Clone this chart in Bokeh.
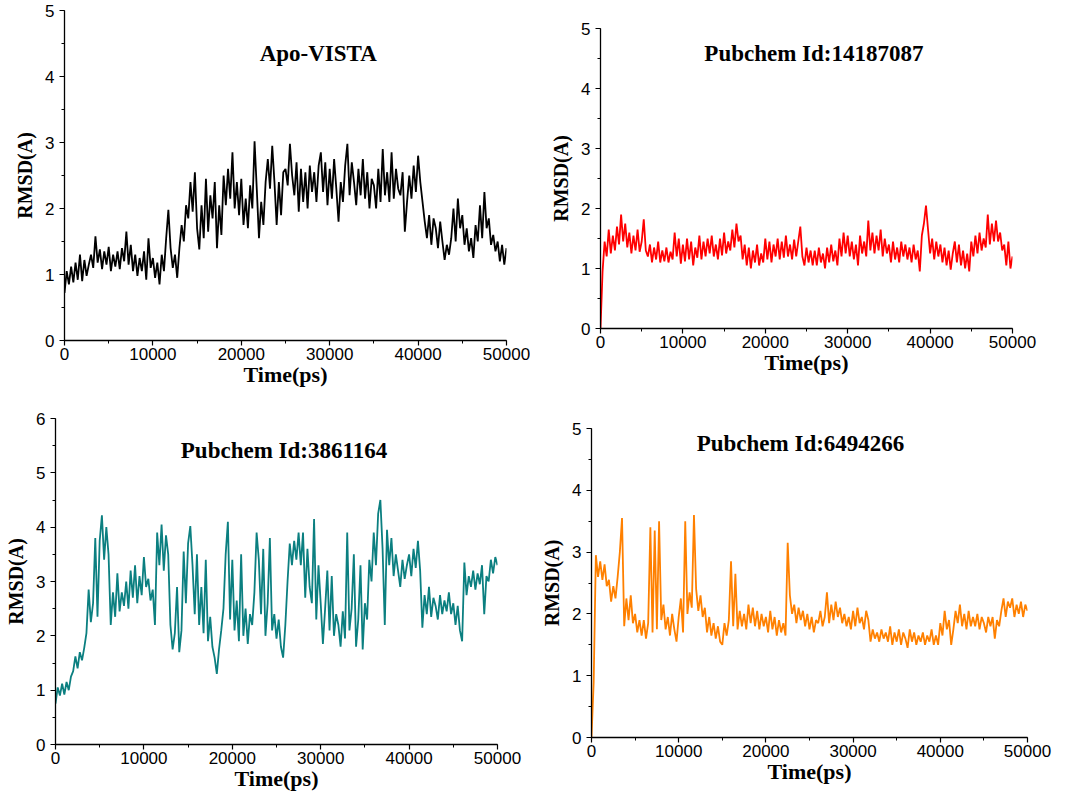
from bokeh.plotting import figure
from bokeh.layouts import row, column
from bokeh.models import Range1d, SingleIntervalTicker, ColumnDataSource
from bokeh.embed import file_html
from bokeh.resources import INLINE
from bokeh.core.properties import value

# ---------------- data (RMSD in Angstrom, sampled every 250 ps) ----------------
time_ps = list(range(0, 50001, 250))

apo_vista = [
    0.72, 1.05, 0.85, 1.12, 0.88, 1.18, 0.92, 1.30, 0.90, 1.22, 0.98, 1.15,
    1.30, 1.10, 1.58, 1.18, 1.38, 1.08, 1.35, 1.15, 1.42, 1.05, 1.30, 1.12,
    1.35, 1.08, 1.40, 1.20, 1.65, 1.15, 1.45, 1.05, 1.30, 0.98, 1.25, 1.05,
    1.35, 0.92, 1.55, 1.10, 1.25, 0.95, 1.18, 0.85, 1.30, 1.05, 1.55, 1.98,
    1.40, 1.10, 1.30, 0.95, 1.40, 1.75, 1.50, 2.05, 1.85, 2.40, 1.95, 2.55,
    1.70, 1.38, 2.05, 1.55, 2.45, 1.65, 2.20, 1.85, 2.40, 1.40, 2.05, 1.60,
    2.50, 2.05, 2.60, 2.15, 2.85, 2.00, 2.40, 1.90, 2.45, 1.75, 2.15, 1.70,
    2.35, 2.00, 3.02, 2.30, 1.55, 2.10, 1.75, 2.40, 2.75, 2.30, 2.95, 2.40,
    1.75, 2.40, 1.90, 2.55, 2.60, 2.35, 2.98, 2.50, 2.20, 2.70, 1.95, 2.60,
    2.10, 2.55, 2.00, 2.65, 2.25, 2.55, 2.10, 2.65, 2.85, 2.25, 2.70, 2.05,
    2.60, 2.15, 2.75, 2.30, 1.80, 2.40, 2.10, 2.65, 2.98, 2.20, 2.70, 2.40,
    2.05, 2.60, 2.20, 2.75, 2.15, 2.55, 2.00, 2.45, 2.35, 2.00, 2.60, 2.10,
    2.90, 2.20, 2.55, 2.10, 2.85, 2.15, 2.60, 2.30, 2.20, 2.55, 1.65, 2.10,
    2.50, 2.15, 2.65, 2.25, 2.80, 2.40, 2.10, 1.80, 1.55, 1.90, 1.45, 1.85,
    1.70, 1.40, 1.80, 1.50, 1.22, 1.45, 1.30, 1.55, 2.00, 1.50, 2.15, 1.70,
    1.90, 1.45, 1.70, 1.35, 1.55, 1.25, 1.75, 1.50, 2.05, 1.55, 2.25, 1.70,
    1.85, 1.45, 1.60, 1.35, 1.50, 1.20, 1.45, 1.15, 1.40,
]

cid_14187087 = [
    0.00, 0.95, 1.45, 1.20, 1.65, 1.25, 1.55, 1.30, 1.70, 1.40, 1.90, 1.45,
    1.75, 1.35, 1.60, 1.25, 1.55, 1.30, 1.65, 1.28, 1.45, 1.82, 1.30, 1.20,
    1.40, 1.10, 1.35, 1.15, 1.45, 1.10, 1.30, 1.12, 1.35, 1.10, 1.28, 1.15,
    1.60, 1.20, 1.50, 1.08, 1.40, 1.12, 1.50, 1.15, 1.45, 1.05, 1.35, 1.18,
    1.55, 1.15, 1.45, 1.20, 1.50, 1.25, 1.55, 1.20, 1.40, 1.15, 1.50, 1.22,
    1.60, 1.25, 1.45, 1.30, 1.65, 1.35, 1.75, 1.45, 1.55, 1.15, 1.40, 1.05,
    1.35, 1.00, 1.30, 1.10, 1.40, 1.05, 1.25, 1.10, 1.50, 1.15, 1.45, 1.10,
    1.40, 1.20, 1.50, 1.15, 1.45, 1.18, 1.55, 1.20, 1.40, 1.15, 1.48, 1.20,
    1.45, 1.70, 1.20, 1.05, 1.35, 1.10, 1.30, 1.05, 1.30, 1.05, 1.35, 1.10,
    1.25, 1.00, 1.35, 1.10, 1.40, 1.12, 1.30, 1.05, 1.50, 1.20, 1.60, 1.25,
    1.55, 1.20, 1.45, 1.15, 1.40, 1.05, 1.55, 1.25, 1.45, 1.20, 1.80, 1.30,
    1.60, 1.25, 1.55, 1.30, 1.65, 1.20, 1.50, 1.25, 1.40, 1.10, 1.45, 1.15,
    1.35, 1.10, 1.45, 1.20, 1.40, 1.15, 1.35, 1.10, 1.40, 1.15, 1.30, 0.95,
    1.55, 1.75, 2.05, 1.65, 1.25, 1.50, 1.15, 1.45, 1.20, 1.40, 1.10, 1.35,
    1.05, 1.30, 0.98, 1.25, 1.45, 1.10, 1.40, 1.05, 1.30, 1.00, 1.25, 0.95,
    1.45, 1.20, 1.55, 1.25, 1.60, 1.30, 1.50, 1.35, 1.90, 1.40, 1.75, 1.45,
    1.80, 1.45, 1.60, 1.30, 1.40, 1.05, 1.45, 1.00, 1.20,
]

cid_3861164 = [
    0.75, 1.05, 0.90, 1.12, 0.92, 1.15, 1.00, 1.25, 1.35, 1.62, 1.40, 1.70,
    1.55, 1.78, 2.05, 2.85, 2.25, 2.60, 3.80, 2.35, 3.75, 4.22, 3.40, 4.00,
    3.50, 2.20, 2.80, 2.35, 3.15, 2.45, 2.80, 2.55, 3.00, 2.50, 3.20, 2.70,
    3.30, 2.60, 3.10, 2.75, 3.45, 2.90, 3.05, 2.65, 2.85, 2.20, 3.90, 3.30,
    4.05, 3.20, 3.85, 3.50, 2.20, 1.75, 2.05, 2.90, 1.70, 2.10, 3.55, 2.60,
    3.70, 4.02, 3.30, 2.40, 3.50, 2.20, 2.90, 2.05, 3.40, 1.90, 2.35, 1.80,
    1.60, 1.30, 1.75, 2.10, 2.50, 3.50, 4.10, 2.30, 3.40, 2.10, 2.65, 1.90,
    3.50, 2.00, 2.50, 1.85, 2.40, 2.20, 2.80, 3.90, 3.40, 2.40, 3.60, 2.00,
    2.60, 3.80, 2.10, 2.40, 1.95, 2.30, 1.80, 1.60, 2.20, 3.00, 3.70, 3.30,
    3.75, 3.40, 3.90, 3.30, 3.90, 2.70, 3.60, 2.90, 2.60, 4.15, 2.30, 3.30,
    2.60, 1.85, 2.50, 3.20, 2.10, 3.10, 2.00, 2.40, 2.20, 1.80, 2.45, 1.95,
    3.90, 2.10, 2.50, 3.50, 1.80, 2.30, 3.30, 1.75, 2.60, 2.30, 3.40, 3.00,
    3.90, 3.30, 4.25, 4.50, 3.60, 2.20, 3.95, 3.30, 3.80, 3.10, 3.50, 3.20,
    2.90, 3.40, 3.05, 3.30, 3.50, 3.10, 3.60, 3.25, 3.75, 3.20, 2.15, 2.75,
    2.40, 2.90, 2.35, 2.70, 2.55, 2.30, 2.75, 2.40, 2.65, 2.45, 2.80, 2.40,
    2.60, 2.20, 2.55, 2.10, 1.90, 3.35, 2.75, 3.10, 2.90, 3.20, 2.85, 3.15,
    2.95, 3.30, 2.40, 3.10, 3.00, 3.40, 3.15, 3.45, 3.30,
]

cid_6494266 = [
    0.00, 0.90, 2.95, 2.60, 2.85, 2.55, 2.80, 2.45, 2.55, 2.20, 2.45, 2.25,
    2.60, 3.00, 3.55, 1.80, 2.25, 1.90, 2.30, 1.85, 2.00, 1.70, 1.90, 1.65,
    1.90, 1.60, 1.85, 3.40, 1.70, 3.35, 1.75, 3.50, 1.90, 2.15, 1.75, 1.95,
    1.65, 2.00, 1.75, 1.55, 1.95, 2.25, 1.70, 3.50, 2.00, 2.35, 2.10, 3.60,
    2.40, 2.05, 2.30, 1.95, 2.10, 1.70, 1.95, 1.65, 1.85, 1.60, 1.80, 1.55,
    1.50, 1.85, 1.65, 1.90, 2.85, 1.80, 2.65, 1.75, 2.05, 1.80, 2.00, 1.75,
    2.15, 1.85, 2.10, 1.80, 2.05, 1.75, 2.00, 1.80, 1.95, 1.70, 2.05, 1.75,
    1.95, 1.65, 1.90, 1.70, 1.85, 1.65, 3.15, 2.30, 2.00, 2.15, 1.85, 2.10,
    1.90, 2.05, 1.80, 2.00, 1.75, 1.95, 1.70, 1.90, 1.85, 2.05, 1.80, 1.95,
    2.35, 1.85, 2.15, 1.90, 2.20, 1.95, 2.10, 1.85, 2.00, 1.80, 1.95, 1.75,
    2.05, 1.80, 2.10, 1.85, 1.95, 1.75, 2.05, 1.90, 1.55, 1.75, 1.60, 1.70,
    1.55, 1.75, 1.60, 1.70, 1.55, 1.80, 1.50, 1.70, 1.55, 1.75, 1.50, 1.70,
    1.60, 1.45, 1.75, 1.55, 1.70, 1.50, 1.65, 1.55, 1.70, 1.50, 1.65, 1.55,
    1.75, 1.50, 1.65, 1.50, 1.85, 1.65, 2.05, 1.75, 1.90, 1.50, 1.75, 2.05,
    1.85, 2.15, 1.80, 2.00, 1.75, 2.05, 1.80, 1.95, 1.80, 2.00, 1.75, 1.95,
    1.85, 1.70, 1.95, 1.80, 1.95, 1.60, 1.90, 1.80, 2.05, 2.25, 1.95, 2.20,
    2.10, 2.25, 1.95, 2.15, 2.00, 2.20, 1.95, 2.15, 2.05,
]

titles = ["Apo-VISTA", "Pubchem Id:14187087", "Pubchem Id:3861164", "Pubchem Id:6494266"]
colors = ["#000000", "#ff0000", "#0b7f80", "#ff8000"]
y_max = [5, 5, 6, 5]
title_pos = [(28700, 4.35), (25900, 4.58), (25850, 5.41), (23970, 4.76)]
x_label = "Time(ps)"
y_label = "RMSD(A)"

SERIF = "Liberation Serif"
SANS = "Liberation Sans"


def panel(idx, yvals, width, height, borders):
    bl, br, bt, bb = borders
    p = figure(width=width, height=height, output_backend="svg", toolbar_location=None,
               x_range=Range1d(0, 50000), y_range=Range1d(0, y_max[idx]),
               min_border_left=bl, min_border_right=br, min_border_top=bt, min_border_bottom=bb,
               frame_align=False)
    p.outline_line_color = None
    p.xgrid.visible = False
    p.ygrid.visible = False
    p.background_fill_color = "white"
    p.border_fill_color = "white"
    src = ColumnDataSource(dict(t=time_ps, r=yvals))
    p.line("t", "r", source=src, line_color=colors[idx], line_width=1.8, line_join="bevel")
    tx, ty = title_pos[idx]
    p.text(x=[tx], y=[ty], text=[titles[idx]], text_font=value(SERIF), text_font_style="bold",
           text_font_size="23px", text_align="center", text_baseline="middle", text_color="black")
    p.xaxis.ticker = SingleIntervalTicker(interval=10000, num_minor_ticks=2)
    p.yaxis.ticker = SingleIntervalTicker(interval=1, num_minor_ticks=2)
    for ax in (p.xaxis[0], p.yaxis[0]):
        ax.axis_line_color = "black"
        ax.axis_line_width = 1.3
        ax.major_tick_line_color = "black"
        ax.minor_tick_line_color = "black"
        ax.major_tick_line_width = 1.2
        ax.minor_tick_line_width = 1.0
        ax.major_tick_in = 0
        ax.major_tick_out = 5
        ax.minor_tick_in = 0
        ax.minor_tick_out = 3
        ax.major_label_text_font = SANS
        ax.major_label_text_font_size = "17px"
        ax.major_label_text_color = "black"
        ax.axis_label_text_font = SERIF
        ax.axis_label_text_font_style = "bold"
        ax.axis_label_text_color = "black"
    p.xaxis.axis_label = x_label
    p.yaxis.axis_label = y_label
    p.xaxis.axis_label_text_font_size = "22px"
    p.yaxis.axis_label_text_font_size = "20px"
    p.xaxis.major_label_standoff = 2
    p.xaxis.axis_label_standoff = -1
    p.yaxis.major_label_standoff = 5
    p.yaxis.axis_label_standoff = 6
    return p


p1 = panel(0, apo_vista, 530, 390, (64, 24, 10, 50))
p2 = panel(1, cid_14187087, 542, 390, (70, 60, 28, 62))
p3 = panel(2, cid_3861164, 530, 406, (55, 33, 28, 52))
p4 = panel(3, cid_6494266, 542, 406, (61, 45, 38, 59))

layout = row(column(p1, p3), column(p2, p4))

with open("out.html", "w") as f:
    f.write(file_html(layout, INLINE))
